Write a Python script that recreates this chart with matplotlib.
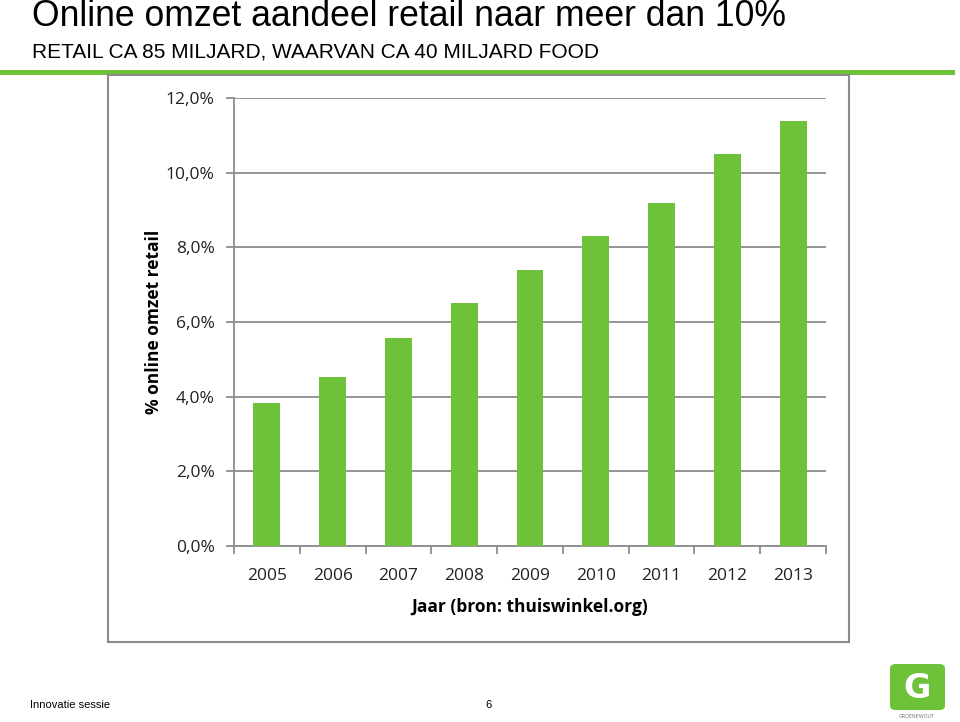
import matplotlib.pyplot as plt
from matplotlib.patches import Rectangle, FancyBboxPatch
from matplotlib.ticker import FuncFormatter

years = ['2005', '2006', '2007', '2008', '2009', '2010', '2011', '2012', '2013']
share = [3.82, 4.52, 5.58, 6.50, 7.40, 8.31, 9.18, 10.51, 11.38]
y_ticks = [0, 2, 4, 6, 8, 10, 12]

green = '#6dc23a'
grid_grey = '#8c8c8c'
W, H = 960, 722

fig = plt.figure(figsize=(9.6, 7.22), dpi=100)
fig.patch.set_facecolor('white')

head_font = ['Liberation Sans', 'DejaVu Sans']
chart_font = ['Open Sans', 'DejaVu Sans']

# slide header
fig.text(32 / W, 1 - 16 / H, 'Online omzet aandeel retail naar meer dan 10%',
         fontsize=25.6, family=head_font, va='center', ha='left')
fig.text(32 / W, 1 - 52 / H, 'RETAIL CA 85 MILJARD, WAARVAN CA 40 MILJARD FOOD',
         fontsize=15, family=head_font, va='center', ha='left')
fig.add_artist(Rectangle((0, 1 - 75 / H), 955 / W, 5 / H, transform=fig.transFigure,
                         color=green, lw=0))

# chart frame
fig.add_artist(Rectangle((108 / W, 1 - 642 / H), (849 - 108) / W, (642 - 75) / H,
                         transform=fig.transFigure, fill=False, ec='#8a8a8a', lw=1.5))

ax = fig.add_axes([234 / W, 1 - 546 / H, (826 - 234) / W, (546 - 98) / H])
x = range(len(years))
ax.bar(x, share, width=0.41, color=green, zorder=3)
ax.set_xlim(-0.5, len(years) - 0.5)
ax.set_ylim(0, 12)
ax.set_yticks(y_ticks)
ax.yaxis.set_major_formatter(FuncFormatter(lambda v, p: ('%.1f%%' % v).replace('.', ',')))
ax.grid(axis='y', color=grid_grey, lw=1.3, zorder=0)
ax.set_xticks(list(x))
ax.set_xticklabels(years)
ax.set_xticks([i - 0.5 for i in range(len(years) + 1)], minor=True)
ax.tick_params(axis='x', which='major', length=0, pad=16, labelsize=12.5)
ax.tick_params(axis='x', which='minor', length=6, color=grid_grey, width=1.3)
ax.tick_params(axis='y', length=6, color=grid_grey, width=1.3, labelsize=12.5, pad=8)
for lab in ax.get_xticklabels() + ax.get_yticklabels():
    lab.set_family(chart_font)
    lab.set_color('#222222')
for s in ['top', 'right']:
    ax.spines[s].set_visible(False)
for s in ['left', 'bottom']:
    ax.spines[s].set_color(grid_grey)
    ax.spines[s].set_linewidth(1.3)
ax.set_xlabel('Jaar (bron: thuiswinkel.org)', fontsize=12.5, fontweight='bold',
              family=chart_font, labelpad=10)
ax.set_ylabel('% online omzet retail', fontsize=12.5, fontweight='bold',
              family=chart_font, labelpad=2)

# footer
fig.text(30 / W, 1 - 705 / H, 'Innovatie sessie', fontsize=8, family=head_font, va='center')
fig.text(485 / W, 1 - 705 / H, '6', fontsize=8, family=head_font, va='center')

# logo
fig.add_artist(FancyBboxPatch((890 / W, 1 - 710 / H), 55 / W, 46 / H,
                              boxstyle='round,pad=0,rounding_size=0.006',
                              transform=fig.transFigure, color=green, lw=0))
fig.text(917 / W, 1 - 688 / H, 'G', fontsize=24, fontweight='bold', color='white',
         ha='center', va='center', family=['DejaVu Sans'])
fig.text(917 / W, 1 - 717 / H, 'GROENEWOUT', fontsize=3.5, color='#777777',
         ha='center', va='center')

fig.savefig('out.png', dpi=100)
